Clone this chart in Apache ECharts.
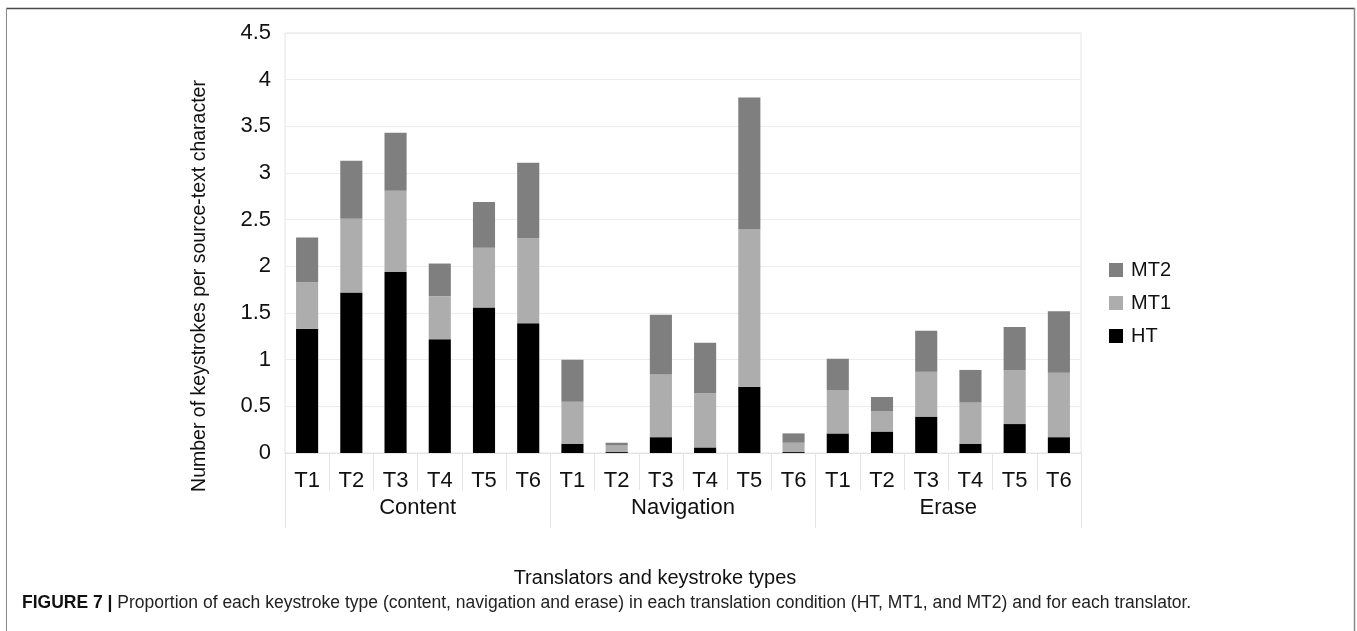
<!DOCTYPE html>
<html>
<head>
<meta charset="utf-8">
<script src="https://cdn.jsdelivr.net/npm/echarts@6/dist/echarts.min.js"></script>
<style>
html,body{margin:0;padding:0;background:#fff;}
#c{width:1357px;height:631px;}
</style>
</head>
<body>
<div id="c"></div>
<script>
var categories = ['T1','T2','T3','T4','T5','T6','T1','T2','T3','T4','T5','T6','T1','T2','T3','T4','T5','T6'];
var groups = ['Content','Navigation','Erase'];
var yTicks = {min: 0, max: 4.5, interval: 0.5};
var ht  = [1.33, 1.72, 1.94, 1.22, 1.56, 1.39, 0.10, 0.01, 0.17, 0.06, 0.71, 0.01, 0.21, 0.23, 0.39, 0.10, 0.31, 0.17];
var mt1 = [0.50, 0.79, 0.87, 0.46, 0.64, 0.91, 0.45, 0.07, 0.67, 0.58, 1.69, 0.10, 0.46, 0.22, 0.48, 0.44, 0.58, 0.69];
var mt2 = [0.48, 0.62, 0.62, 0.35, 0.49, 0.81, 0.45, 0.03, 0.64, 0.54, 1.41, 0.10, 0.34, 0.15, 0.44, 0.35, 0.46, 0.66];
var seriesNames = ['HT','MT1','MT2'];
var legendOrder = ['MT2','MT1','HT'];
var yTitle = 'Number of keystrokes per source-text character';
var xTitle = 'Translators and keystroke types';
var caption = 'Proportion of each keystroke type (content, navigation and erase) in each translation condition (HT, MT1, and MT2) and for each translator.';

var FONT = 'Liberation Sans, Arial, sans-serif';
var chart = echarts.init(document.getElementById('c'), null, {renderer: 'canvas'});
var lineC = '#e4e4e4';
var option = {
  animation: false,
  textStyle: {fontFamily: FONT},
  grid: {left: 285, right: 276, top: 33, bottom: 178, show: true, borderColor: lineC, borderWidth: 1, backgroundColor: 'transparent'},
  legend: {
    orient: 'vertical', left: 1109, top: 260, padding: 0,
    itemWidth: 14, itemHeight: 14, itemGap: 13, icon: 'rect',
    data: legendOrder,
    textStyle: {fontSize: 20, color: '#111', fontFamily: FONT, padding: [0, 0, 0, 3]}
  },
  xAxis: [
    {
      type: 'category', data: categories, position: 'bottom',
      axisLine: {lineStyle: {color: lineC}},
      axisTick: {show: true, length: 37, alignWithLabel: false, interval: 0, lineStyle: {color: lineC}},
      axisLabel: {fontSize: 22, margin: 17, color: '#111', interval: 0, fontFamily: FONT},
      splitLine: {show: false}
    },
    {
      type: 'category', data: groups, position: 'bottom',
      axisLine: {show: false},
      axisTick: {show: true, length: 75, alignWithLabel: false, interval: 0, lineStyle: {color: lineC}},
      axisLabel: {fontSize: 22, margin: 44, color: '#111', interval: 0, fontFamily: FONT},
      splitLine: {show: false}
    }
  ],
  yAxis: {
    type: 'value', min: yTicks.min, max: yTicks.max, interval: yTicks.interval,
    axisLine: {show: false}, axisTick: {show: false},
    axisLabel: {fontSize: 22, margin: 14, color: '#111', fontFamily: FONT},
    splitLine: {lineStyle: {color: '#ececec'}}
  },
  series: [
    {name: seriesNames[0], type: 'bar', stack: 'k', data: ht, barWidth: '50%', xAxisIndex: 0, itemStyle: {color: '#000000'}},
    {name: seriesNames[1], type: 'bar', stack: 'k', data: mt1, barWidth: '50%', xAxisIndex: 0, itemStyle: {color: '#adadad'}},
    {name: seriesNames[2], type: 'bar', stack: 'k', data: mt2, barWidth: '50%', xAxisIndex: 0, itemStyle: {color: '#7f7f7f'}}
  ],
  graphic: [
    {type: 'line', shape: {x1: 6, y1: 8.5, x2: 1355, y2: 8.5}, style: {stroke: '#4a4a4a', lineWidth: 1.5}, silent: true},
    {type: 'line', shape: {x1: 6.5, y1: 8, x2: 6.5, y2: 640}, style: {stroke: '#8a8a8a', lineWidth: 1}, silent: true},
    {type: 'line', shape: {x1: 1354.5, y1: 8, x2: 1354.5, y2: 640}, style: {stroke: '#8a8a8a', lineWidth: 1.5}, silent: true},
    {type: 'text', x: 200, y: 286, rotation: Math.PI / 2, silent: true,
     style: {text: yTitle, fontSize: 19.5, fill: '#111', fontFamily: FONT, align: 'center', verticalAlign: 'middle'}},
    {type: 'text', x: 655, y: 578, silent: true,
     style: {text: xTitle, fontSize: 20, fill: '#111', fontFamily: FONT, align: 'center', verticalAlign: 'middle'}},
    {type: 'text', x: 22, y: 603, silent: true,
     style: {text: '{b|FIGURE 7 |} ' + caption, fontSize: 17.5, fill: '#222', fontFamily: FONT, align: 'left', verticalAlign: 'middle',
       rich: {b: {fontWeight: 'bold', fontSize: 17.5, fill: '#111', fontFamily: FONT}}}}
  ]
};
chart.setOption(option);
</script>
</body>
</html>
